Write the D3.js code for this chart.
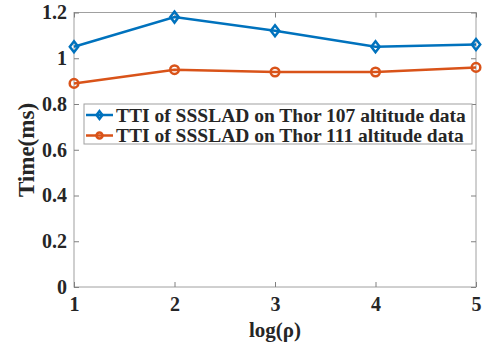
<!DOCTYPE html>
<html>
<head>
<meta charset="utf-8">
<script src="https://cdn.jsdelivr.net/npm/d3@7"></script>
<style>
  body { margin: 0; background: #fff; }
  text { font-family: "Liberation Serif", "Times New Roman", serif; font-weight: bold; fill: #262626; }
</style>
</head>
<body>
<div id="chart"></div>
<script>
var xValues = [1, 2, 3, 4, 5]
var thor107 = [1.05, 1.18, 1.12, 1.05, 1.06]
var thor111 = [0.89, 0.95, 0.94, 0.94, 0.96]
var xTicks = [1, 2, 3, 4, 5]
var yTicks = [0, 0.2, 0.4, 0.6, 0.8, 1, 1.2]
var seriesNames = ['TTI of SSSLAD on Thor 107 altitude data', 'TTI of SSSLAD on Thor 111 altitude data']

var W = 482, H = 350
var pLeft = 74, pRight = 476, pTop = 12.5, pBottom = 287

var svg = d3.select('#chart').append('svg')
    .attr('width', W)
    .attr('height', H)

var x = d3.scaleLinear().domain([1, 5]).range([pLeft, pRight])
var y = d3.scaleLinear().domain([0, 1.2]).range([pBottom, pTop])

// box
svg.append('rect')
    .attr('x', pLeft).attr('y', pTop)
    .attr('width', pRight - pLeft).attr('height', pBottom - pTop)
    .attr('fill', 'none').attr('stroke', '#a0a0a0').attr('stroke-width', 1)

function fmt(d) { return String(+d.toFixed(1)) }

svg.append('g')
    .attr('transform', `translate(0, ${pBottom})`)
    .call(d3.axisBottom(x).tickValues(xTicks).tickSize(-5).tickPadding(10).tickFormat(d3.format('d')))
svg.append('g')
    .attr('transform', `translate(0, ${pTop})`)
    .call(d3.axisTop(x).tickValues(xTicks).tickSize(-5).tickFormat(''))
svg.append('g')
    .attr('transform', `translate(${pLeft}, 0)`)
    .call(d3.axisLeft(y).tickValues(yTicks).tickSize(-5).tickPadding(7).tickFormat(fmt))
svg.append('g')
    .attr('transform', `translate(${pRight}, 0)`)
    .call(d3.axisRight(y).tickValues(yTicks).tickSize(-5).tickFormat(''))

svg.selectAll('.domain').remove()
svg.selectAll('.tick line').attr('stroke', '#808080')
svg.selectAll('.tick text')
    .style('font-size', '20px')
    .style('font-family', '"Liberation Serif", serif')
    .style('font-weight', 'bold')
    .attr('fill', '#262626')

// lines
var series = [
    { name: seriesNames[0], values: thor107, color: '#0072BD', marker: 'diamond' },
    { name: seriesNames[1], values: thor111, color: '#D95319', marker: 'circle' }
]

var line = d3.line().x((d, i) => x(xValues[i])).y(d => y(d))

function drawMarker(g, type, cx, cy, color, s) {
    if (type === 'diamond') {
        g.append('path')
            .attr('d', `M${cx},${cy - 5.5 * s}L${cx + 4.2 * s},${cy}L${cx},${cy + 5.5 * s}L${cx - 4.2 * s},${cy}Z`)
            .attr('fill', 'none').attr('stroke', color).attr('stroke-width', 2.5)
    } else {
        g.append('circle')
            .attr('cx', cx).attr('cy', cy).attr('r', 4.3 * s)
            .attr('fill', 'none').attr('stroke', color).attr('stroke-width', 2.5)
    }
}

series.forEach(s => {
    svg.append('path')
        .datum(s.values)
        .attr('d', line)
        .attr('fill', 'none')
        .attr('stroke', s.color)
        .attr('stroke-width', 2.5)
    var g = svg.append('g')
    s.values.forEach((v, i) => drawMarker(g, s.marker, x(xValues[i]), y(v), s.color, 1))
})

// legend
var lg = svg.append('g')
lg.append('rect')
    .attr('x', 84).attr('y', 104)
    .attr('width', 388).attr('height', 40)
    .attr('fill', '#fff').attr('stroke', '#a0a0a0').attr('stroke-width', 1)
series.forEach((s, i) => {
    var ly = 115 + i * 20.5
    lg.append('line')
        .attr('x1', 86).attr('x2', 113)
        .attr('y1', ly).attr('y2', ly)
        .attr('stroke', s.color).attr('stroke-width', 2.5)
    drawMarker(lg, s.marker, 99.5, ly, s.color, 0.7)
    lg.append('text')
        .text(s.name)
        .attr('x', 116).attr('y', ly)
        .attr('dy', '0.35em')
        .style('font-size', '19.5px')
})

// axis titles
svg.append('text')
    .text('log(ρ)')
    .attr('text-anchor', 'middle')
    .attr('x', (pLeft + pRight) / 2)
    .attr('y', 337)
    .style('font-size', '21px')

svg.append('text')
    .text('Time(ms)')
    .attr('text-anchor', 'middle')
    .attr('transform', `translate(34, 150) rotate(-90)`)
    .style('font-size', '23px')
</script>
</body>
</html>
